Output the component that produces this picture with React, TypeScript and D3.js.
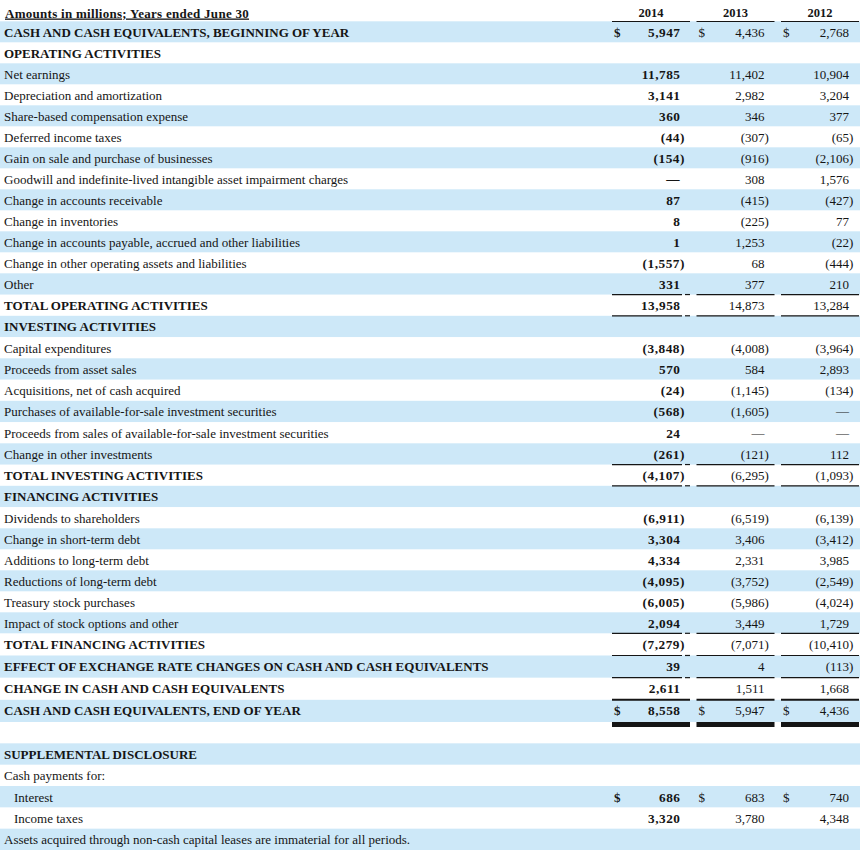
import React from "react";
import * as d3 from "d3";

const years = ["2014", "2013", "2012"];

const rowLabels = [
  "CASH AND CASH EQUIVALENTS, BEGINNING OF YEAR",
  "OPERATING ACTIVITIES",
  "Net earnings",
  "Depreciation and amortization",
  "Share-based compensation expense",
  "Deferred income taxes",
  "Gain on sale and purchase of businesses",
  "Goodwill and indefinite-lived intangible asset impairment charges",
  "Change in accounts receivable",
  "Change in inventories",
  "Change in accounts payable, accrued and other liabilities",
  "Change in other operating assets and liabilities",
  "Other",
  "TOTAL OPERATING ACTIVITIES",
  "INVESTING ACTIVITIES",
  "Capital expenditures",
  "Proceeds from asset sales",
  "Acquisitions, net of cash acquired",
  "Purchases of available-for-sale investment securities",
  "Proceeds from sales of available-for-sale investment securities",
  "Change in other investments",
  "TOTAL INVESTING ACTIVITIES",
  "FINANCING ACTIVITIES",
  "Dividends to shareholders",
  "Change in short-term debt",
  "Additions to long-term debt",
  "Reductions of long-term debt",
  "Treasury stock purchases",
  "Impact of stock options and other",
  "TOTAL FINANCING ACTIVITIES",
  "EFFECT OF EXCHANGE RATE CHANGES ON CASH AND CASH EQUIVALENTS",
  "CHANGE IN CASH AND CASH EQUIVALENTS",
  "CASH AND CASH EQUIVALENTS, END OF YEAR",
  "",
  "SUPPLEMENTAL DISCLOSURE",
  "Cash payments for:",
  "Interest",
  "Income taxes",
  "Assets acquired through non-cash capital leases are immaterial for all periods.",
];

// kind: b = bold label, r = regular, i = indented regular
const rowKinds = [
  "b", "b", "r", "r", "r", "r", "r", "r", "r", "r", "r", "r", "r", "b",
  "b", "r", "r", "r", "r", "r", "r", "b",
  "b", "r", "r", "r", "r", "r", "r", "b", "b", "b", "b",
  "r", "b", "r", "i", "i", "r",
];

// undefined = empty cell, null = dash
const values2014 = [
  5947, undefined, 11785, 3141, 360, -44, -154, null, 87, 8, 1, -1557, 331, 13958,
  undefined, -3848, 570, -24, -568, 24, -261, -4107,
  undefined, -6911, 3304, 4334, -4095, -6005, 2094, -7279, 39, 2611, 8558,
  undefined, undefined, undefined, 686, 3320, undefined,
];
const values2013 = [
  4436, undefined, 11402, 2982, 346, -307, -916, 308, -415, -225, 1253, 68, 377, 14873,
  undefined, -4008, 584, -1145, -1605, null, -121, -6295,
  undefined, -6519, 3406, 2331, -3752, -5986, 3449, -7071, 4, 1511, 5947,
  undefined, undefined, undefined, 683, 3780, undefined,
];
const values2012 = [
  2768, undefined, 10904, 3204, 377, -65, -2106, 1576, -427, 77, -22, -444, 210, 13284,
  undefined, -3964, 2893, -134, null, null, 112, -1093,
  undefined, -6139, -3412, 3985, -2549, -4024, 1729, -10410, -113, 1668, 4436,
  undefined, undefined, undefined, 740, 4348, undefined,
];

const dollarRows = [0, 32, 36];
const thinLineRows = [12, 13, 20, 21, 28, 29, 30];
const mediumLineRows = [31];
const thickLineRows = [32];

const W = 860;
const H = 850;
const FONT = "'Liberation Serif', 'Times New Roman', serif";
const BLUE = "#cde8f8";
const INK = "#151515";

export default function App() {
  // row boundaries (row index -> top y); rows are slightly taller lower on the page
  const yTop = d3
    .scaleLinear()
    .domain([0, 12, 24, 29, 33, 39])
    .range([21.3, 273.3, 528.3, 633.3, 722, 850]);
  const x = d3.scalePoint<string>().domain(years).range([680, 849]);
  const columns = [values2014, values2013, values2012];
  const fmt = d3.format(",");
  const BASE = 15.6;

  const segStart = (yr: string) => (x(yr) as number) - 68;
  const segEnd = (yr: string) => (x(yr) as number) + 10;

  const cell = (v: number | null | undefined, yr: string, row: number, bold: boolean) => {
    if (v === undefined) return null;
    const right = x(yr) as number;
    const base = yTop(row) + BASE;
    const ls = bold ? 0.5 : 0;
    const style: React.CSSProperties = {
      fontFamily: FONT,
      fontSize: bold ? 13.3 : 13,
      fontWeight: bold ? 700 : 400,
      letterSpacing: ls,
    };
    if (v === null) {
      return (
        <text key={yr + row} x={right} y={base - 1} textAnchor="end" fill={INK} style={style}>
          —
        </text>
      );
    }
    const s = v < 0 ? `(${fmt(-v)})` : fmt(v);
    const xx = (v < 0 ? right + 4.4 : right) + ls;
    return (
      <text key={yr + row} x={xx} y={base} textAnchor="end" fill={INK} style={style}>
        {s}
      </text>
    );
  };

  const hLine = (row: number, yr: string, width: number, offset: number) => {
    const yy = yTop(row + 1) + offset;
    const x0 = segStart(yr);
    const x1 = segEnd(yr);
    if (yr === "2014" && width <= 1.3) {
      return (
        <g key={`l${row}${yr}`}>
          <line x1={x0} x2={x1 - 8} y1={yy} y2={yy} stroke={INK} strokeWidth={width} />
          <line x1={x1 - 5} x2={x1} y1={yy} y2={yy} stroke={INK} strokeWidth={width} />
        </g>
      );
    }
    return <line key={`l${row}${yr}`} x1={x0} x2={x1} y1={yy} y2={yy} stroke={INK} strokeWidth={width} />;
  };

  return (
    <svg
      width={W}
      height={H}
      style={{ position: "absolute", left: 0, top: 0, display: "block", background: "#fff" }}
    >
      {rowLabels.map((_, i) =>
        i % 2 === 0 ? (
          <rect key={"bg" + i} x={0} y={yTop(i)} width={W} height={yTop(i + 1) - yTop(i)} fill={BLUE} />
        ) : null
      )}

      {/* header */}
      <text
        x={5}
        y={17.5}
        fill={INK}
        style={{ fontFamily: FONT, fontSize: 13, fontWeight: 700, letterSpacing: 0.28, textDecoration: "underline" }}
      >
        Amounts in millions; Years ended June 30
      </text>
      {years.map((yr) => (
        <g key={"h" + yr}>
          <text
            x={(segStart(yr) + segEnd(yr)) / 2}
            y={17}
            textAnchor="middle"
            fill={INK}
            style={{ fontFamily: FONT, fontSize: 12.5, fontWeight: 700 }}
          >
            {yr}
          </text>
          <line x1={segStart(yr)} x2={segEnd(yr)} y1={21.5} y2={21.5} stroke={INK} strokeWidth={1.2} />
        </g>
      ))}

      {/* labels */}
      {rowLabels.map((lab, i) => (
        <text
          key={"lab" + i}
          x={rowKinds[i] === "i" ? 14 : 4}
          y={yTop(i) + BASE}
          fill={INK}
          style={{ fontFamily: FONT, fontSize: 13, fontWeight: rowKinds[i] === "b" ? 700 : 400 }}
        >
          {lab}
        </text>
      ))}

      {/* dollar signs */}
      {dollarRows.map((r) =>
        years.map((yr, j) => (
          <text
            key={`d${r}${yr}`}
            x={segStart(yr) + 2}
            y={yTop(r) + BASE}
            fill={INK}
            style={{ fontFamily: FONT, fontSize: 13, fontWeight: j === 0 ? 700 : 400 }}
          >
            $
          </text>
        ))
      )}

      {/* values */}
      {columns.map((col, j) => col.map((v, i) => cell(v, years[j], i, j === 0)))}

      {/* rules */}
      {thinLineRows.map((r) => years.map((yr) => hLine(r, yr, 1.2, 0)))}
      {mediumLineRows.map((r) => years.map((yr) => hLine(r, yr, 2, 0)))}
      {thickLineRows.map((r) => years.map((yr) => hLine(r, yr, 5, 2.5)))}
    </svg>
  );
}
